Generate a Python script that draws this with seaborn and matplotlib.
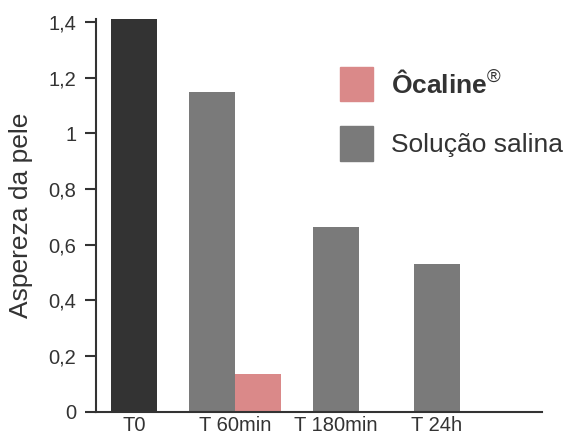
import pandas as pd
import seaborn as sns
import matplotlib
matplotlib.use("Agg")
import matplotlib.pyplot as plt
from matplotlib.patches import Patch

# data
tempos = ["T0", "T 60min", "T 180min", "T 24h"]
series = ["T0", "Solução salina", "Ôcaline"]
tempo_col = ["T0", "T 60min", "T 60min", "T 180min", "T 24h"]
serie_col = ["T0", "Solução salina", "Ôcaline", "Solução salina", "Solução salina"]
valores = [1.41, 1.15, 0.135, 0.664, 0.53]
yticks = [0, 0.2, 0.4, 0.6, 0.8, 1.0, 1.2, 1.4]
ytick_labels = ["0", "0,2", "0,4", "0,6", "0,8", "1", "1,2", "1,4"]

cores = {"T0": "#333333", "Solução salina": "#7a7a7a", "Ôcaline": "#da8989"}
txt = "#333333"

df = pd.DataFrame({"tempo": tempo_col, "serie": serie_col, "valor": valores})

sns.set_style("white")
plt.rcParams["font.family"] = ["Liberation Sans", "DejaVu Sans"]
plt.rcParams["mathtext.fontset"] = "custom"
plt.rcParams["mathtext.rm"] = "Liberation Sans"
plt.rcParams["mathtext.bf"] = "Liberation Sans:bold"

fig = plt.figure(figsize=(5.67, 4.37), dpi=100)
ax = fig.add_axes([0.169, 0.058, 0.787, 0.898])

w = 0.455
sns.barplot(data=df, x="tempo", y="valor", hue="serie", order=tempos,
            hue_order=series, palette=cores, dodge=False, width=w,
            legend=False, saturation=1, linewidth=0, ax=ax)

# T 60min has two bars side by side
for p in ax.patches:
    c = p.get_x() + p.get_width() / 2
    if abs(c - 1) < 0.01 and p.get_height() > 0:
        if p.get_height() > 0.5:
            p.set_x(p.get_x() - w / 2)
        else:
            p.set_x(p.get_x() + w / 2)

ax.set_xlim(-0.376, 4.04)
ax.set_ylim(0, 1.41)
ax.set_yticks(yticks)
ax.set_yticklabels(ytick_labels)
ax.set_xlabel("")
ax.set_ylabel("Aspereza da pele", fontsize=19, color=txt, labelpad=11)

for s in ["top", "right"]:
    ax.spines[s].set_visible(False)
for s in ["left", "bottom"]:
    ax.spines[s].set_color(txt)
    ax.spines[s].set_linewidth(1.5)

ax.tick_params(axis="y", direction="out", length=8, width=1.5, color=txt,
               labelsize=14.5, labelcolor=txt, pad=6, left=True)
ax.tick_params(axis="x", length=0, labelsize=14.5, labelcolor=txt, pad=3)

handles = [Patch(color=cores["Ôcaline"]), Patch(color=cores["Solução salina"])]
labels = [r"$\mathbf{Ôcaline}^{\mathrm{®}}$", "Solução salina"]
fig.legend(handles, labels, loc="upper left",
           bbox_to_anchor=(340 / 567, 1 - 67 / 437), frameon=False,
           fontsize=19, labelcolor=txt, handlelength=1.25, handleheight=1.62,
           handletextpad=0.68, labelspacing=0.95, borderpad=0, borderaxespad=0)

fig.savefig("out.png", dpi=100)
